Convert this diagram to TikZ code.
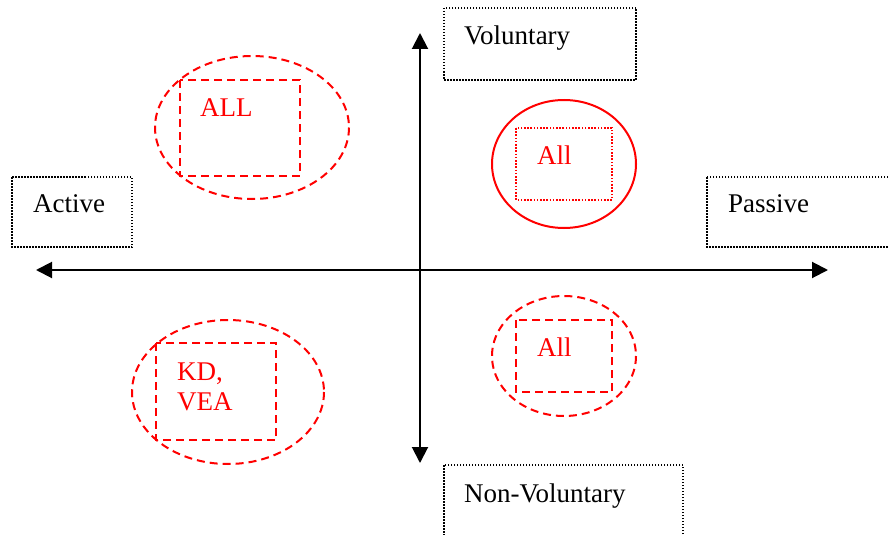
\documentclass[tikz,border=0pt]{standalone}
\usepackage{fontspec}
\setmainfont{Liberation Serif}
\usetikzlibrary{arrows.meta}
\begin{document}
\begin{tikzpicture}[x=1pt,y=-1pt,
  lbl/.style={anchor=base west,inner sep=0pt,font=\fontsize{27}{32}\selectfont},
  rlbl/.style={lbl,text=red},
  dotbox/.style={draw=black,line width=1.5pt,dash pattern=on 1.5pt off 1.5pt},
  reddash/.style={draw=red,line width=2pt,dash pattern=on 8pt off 5pt},
  reddot/.style={draw=red,line width=1.6pt,dash pattern=on 1.6pt off 1.6pt},
  redsolid/.style={draw=red,line width=2pt},
  axis/.style={line width=2pt,{Triangle[length=16pt,width=16pt]}-{Triangle[length=16pt,width=16pt]}}]
\clip (0,0) rectangle (889,535);
\fill[white] (0,0) rectangle (889,535);
% axes
\coordinate (L) at (36,270);
\coordinate (R) at (828,270);
\coordinate (T) at (420,33);
\coordinate (B) at (420,463);
\draw[axis] (L) -- (R);
\draw[axis] (T) -- (B);
% black dotted boxes
\draw[dotbox] (444,8) rectangle (636,80);
\node[lbl] (vol) at (464,45) {Voluntary};
\draw[dotbox] (12,177) rectangle (132,247);
\node[lbl] (act) at (33,212) {Active};
\draw[dotbox] (707,177) rectangle (900,247);
\node[lbl] (pas) at (728,212) {Passive};
\draw[dotbox] (444,465) rectangle (683,545);
\node[lbl] (nonvol) at (464,502) {Non-Voluntary};
% top-left
\draw[reddash] (252,127.5) ellipse [x radius=97,y radius=71.5];
\draw[reddash] (180,80) rectangle (300,176);
\node[rlbl] (all1) at (200,117) {ALL};
% top-right
\draw[redsolid] (564,164) ellipse [x radius=72,y radius=64];
\draw[reddot] (516,128) rectangle (612,200);
\node[rlbl] (all2) at (537,164) {All};
% bottom-left
\draw[reddash] (228,392) ellipse [x radius=96,y radius=72];
\draw[reddash] (156,343) rectangle (276,440);
\node[rlbl] (kd) at (177,380) {KD,};
\node[rlbl] (vea) at (177,410) {VEA};
% bottom-right
\draw[reddash] (564,356) ellipse [x radius=72,y radius=60];
\draw[reddash] (516,320) rectangle (612,392);
\node[rlbl] (all3) at (537,356) {All};
\end{tikzpicture}
\end{document}
